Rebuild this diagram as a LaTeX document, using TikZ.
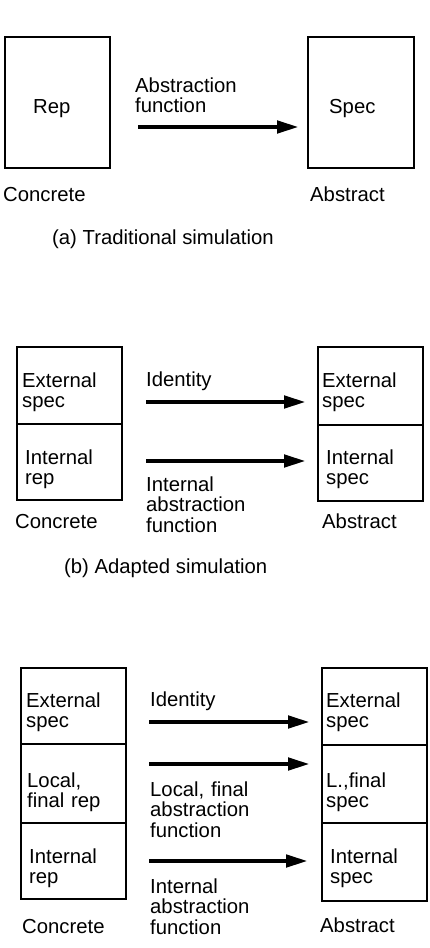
\documentclass[tikz,border=0pt]{standalone}
\usepackage{fontspec}
\setmainfont{Liberation Sans}
\usetikzlibrary{arrows.meta, positioning}

\begin{document}
\begin{tikzpicture}[x=1pt, y=-1pt,
  cell/.style={rectangle, draw, line width=2.2pt, minimum width=105pt, inner sep=0pt},
  txt/.style={anchor=base west, inner sep=0pt, align=left, text width=150pt, font=\fontsize{20.3}{20.5}\selectfont},
  caption/.style={anchor=base west, inner sep=0pt, font=\fontsize{20.3}{20.5}\selectfont},
  arrow/.style={-{Triangle[length=22pt, width=12pt]}, line width=4.5pt}
]
\useasboundingbox (0,0) rectangle (430,948);

% (a) Traditional simulation
\node[cell, minimum height=131pt] (arep) at (57.5,102.5) {};
\node[cell, minimum height=131pt, minimum width=106pt] (aspec) at (361,102.5) {};
\node[txt] (areptxt) at (33,113) {Rep};
\node[txt] (aspectxt) at (329,113) {Spec};
\node[txt] (afun) at (135,92) {Abstraction\\function};
\coordinate (a1s) at (138,127);
\coordinate (a1e) at (299,127);
\draw[arrow] (a1s) -- (a1e);
\node[txt] (acon) at (3,201) {Concrete};
\node[txt] (aabs) at (310,201) {Abstract};
\node[caption] (acap) at (52,244) {(a) Traditional simulation};

% (b) Adapted simulation
\node[cell, minimum height=77pt] (bext) at (69.5,385.5) {};
\node[cell, minimum height=76pt] (bint) at (69.5,462) {};
\node[cell, minimum height=78pt] (bextspec) at (370.5,386) {};
\node[cell, minimum height=76pt] (bintspec) at (370.5,463) {};
\node[txt] (bexttxt) at (22,387) {External\\spec};
\node[txt] (binttxt) at (25,464) {Internal\\rep};
\node[txt] (bextspectxt) at (322,387) {External\\spec};
\node[txt] (bintspectxt) at (326,464) {Internal\\spec};
\node[txt] (bid) at (146,386) {Identity};
\node[txt] (bfun) at (146,491) {Internal\\abstraction\\function};
\coordinate (b1s) at (146,402);
\coordinate (b1e) at (306,402);
\coordinate (b2s) at (146,461);
\coordinate (b2e) at (306,461);
\draw[arrow] (b1s) -- (b1e);
\draw[arrow] (b2s) -- (b2e);
\node[txt] (bcon) at (15,528) {Concrete};
\node[txt] (babs) at (322,528) {Abstract};
\node[caption] (bcap) at (64,573) {(b) Adapted simulation};

% (c) three layers
\node[cell, minimum height=76pt] (cext) at (73.5,706) {};
\node[cell, minimum height=79pt] (cloc) at (73.5,783.5) {};
\node[cell, minimum height=76pt] (cint) at (73.5,861) {};
\node[cell, minimum height=77pt] (cextspec) at (374.5,706.5) {};
\node[cell, minimum height=78pt] (clocspec) at (374.5,784) {};
\node[cell, minimum height=78pt] (cintspec) at (374.5,862) {};
\node[txt] (cexttxt) at (26,707) {External\\spec};
\node[txt] (cloctxt) at (27,787) {Local,\\final rep};
\node[txt] (cinttxt) at (29,863) {Internal\\rep};
\node[txt] (cextspectxt) at (326,707) {External\\spec};
\node[txt] (clocspectxt) at (326,787) {L.,final\\spec};
\node[txt] (cintspectxt) at (330,863) {Internal\\spec};
\node[txt] (cid) at (150,706) {Identity};
\node[txt] (clocfun) at (150,796) {Local, final\\abstraction\\function};
\node[txt] (cintfun) at (150,893) {Internal\\abstraction\\function};
\coordinate (c1s) at (149,722);
\coordinate (c1e) at (310,722);
\coordinate (c2s) at (149,764);
\coordinate (c2e) at (310,764);
\coordinate (c3s) at (149,861);
\coordinate (c3e) at (308,861);
\draw[arrow] (c1s) -- (c1e);
\draw[arrow] (c2s) -- (c2e);
\draw[arrow] (c3s) -- (c3e);
\node[txt] (ccon) at (22,933) {Concrete};
\node[txt] (cabs) at (320,932) {Abstract};

\end{tikzpicture}
\end{document}
